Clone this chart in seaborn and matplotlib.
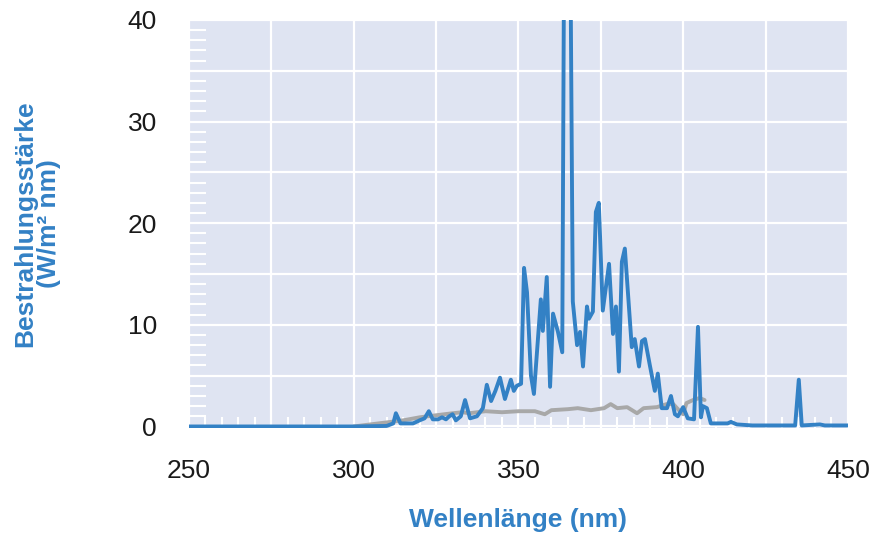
import numpy as np
import pandas as pd
import seaborn as sns
import matplotlib.pyplot as plt
from matplotlib.ticker import MultipleLocator

# blue spectrum (lamp), wavelength in nm / irradiance in W/(m^2 nm)
blue_nm = [250, 300, 310, 312, 312.8, 314.2, 318, 320, 321.5, 322.8, 324, 325.6,
           326.8, 328, 329, 330, 331, 332.5, 333.8, 335.3, 337.4, 339.2, 340.4,
           341.7, 343, 344.4, 345.9, 347.7, 348.6, 349.5, 350.8, 351.7, 352.6,
           353.8, 354.7, 356.8, 357.4, 358.6, 359.6, 360.5, 362, 363.3, 363.9,
           365.7, 366.5, 367.8, 368.7, 369.6, 370.8, 371.4, 372.6, 373.5, 374.4,
           375.6, 377.5, 378.7, 379.6, 380.5, 381.4, 382.3, 384.4, 385.3, 386.6,
           387.5, 388.4, 389.9, 391.4, 392.3, 393.5, 395.1, 396.3, 397.5, 398.4,
           400, 401.4, 403.3, 404.5, 405.4, 406, 407.2, 408.4, 410.2, 413.5,
           414.5, 416.3, 421, 434, 435.1, 436, 441.5, 443, 450]
blue_val = [0, 0, 0.05, 0.3, 1.3, 0.3, 0.3, 0.6, 0.8, 1.5, 0.7, 0.7,
            0.9, 0.7, 1.0, 1.2, 0.6, 1.0, 2.6, 0.8, 1.0, 1.8, 4.1,
            2.5, 3.5, 4.8, 2.7, 4.6, 3.5, 4.0, 4.2, 15.6, 13.2,
            5.0, 3.2, 12.5, 9.4, 14.7, 3.9, 11.1, 9.3, 7.3, 50,
            50, 12.3, 8.0, 9.3, 5.9, 11.8, 10.6, 11.3, 21.1, 22.0,
            11.4, 16.0, 9.1, 11.8, 5.4, 16.2, 17.5, 7.8, 8.6, 5.9,
            8.4, 8.6, 6.0, 3.5, 5.2, 1.8, 1.8, 3.0, 1.2, 1.0,
            1.9, 0.8, 0.7, 9.8, 0.9, 2.0, 1.8, 0.3, 0.3, 0.3,
            0.45, 0.2, 0.1, 0.1, 4.6, 0.1, 0.2, 0.1, 0.1]

# grey reference spectrum
grey_nm = [300, 305, 310, 315, 320, 325, 330, 333, 335, 340, 345, 350, 355,
           358, 360, 365, 368, 372, 376, 378, 380, 383, 386, 388, 392, 395,
           397, 399, 400, 401, 403, 405, 406.5]
grey_val = [0.0, 0.2, 0.4, 0.6, 0.9, 1.1, 1.3, 1.4, 1.3, 1.5, 1.4, 1.5, 1.5,
            1.2, 1.6, 1.7, 1.8, 1.6, 1.8, 2.2, 1.8, 1.9, 1.3, 1.8, 1.9, 2.2,
            2.2, 1.5, 1.2, 2.3, 2.6, 2.8, 2.6]

x_ticks = [250, 275, 300, 325, 350, 375, 400, 425, 450]
x_tick_labels = ["250", "", "300", "", "350", "", "400", "", "450"]
y_ticks = [0, 5, 10, 15, 20, 25, 30, 35, 40]
y_tick_labels = ["0", "", "10", "", "20", "", "30", "", "40"]

blue = "#3381c5"
grey = "#a8a8a8"
bg = "#dfe4f2"

sns.set_theme(style="darkgrid", rc={"axes.facecolor": bg, "grid.color": "white",
                                    "grid.linewidth": 1.6})
plt.rcParams['font.family'] = ['Liberation Sans', 'DejaVu Sans']

fig = plt.figure(figsize=(8.75, 5.37), dpi=100)
ax = fig.add_axes([0.216, 0.203, 0.753, 0.760])

grey_df = pd.DataFrame({"nm": grey_nm, "val": grey_val})
blue_df = pd.DataFrame({"nm": blue_nm, "val": blue_val})
sns.lineplot(data=grey_df, x="nm", y="val", color=grey, linewidth=2.8, ax=ax)
sns.lineplot(data=blue_df, x="nm", y="val", color=blue, linewidth=2.8, ax=ax)

ax.set_xlim(250, 450)
ax.set_ylim(-0.15, 40)
ax.set_xticks(x_ticks)
ax.set_xticklabels(x_tick_labels)
ax.set_yticks(y_ticks)
ax.set_yticklabels(y_tick_labels)
ax.xaxis.set_minor_locator(MultipleLocator(5))
ax.yaxis.set_minor_locator(MultipleLocator(1))
ax.tick_params(which="major", length=0, labelsize=19, colors="#1a1a1a")
ax.tick_params(axis="x", which="major", pad=22)
ax.tick_params(axis="y", which="major", pad=23)
ax.tick_params(axis="x", which="minor", direction="in", length=8, width=1.5,
               color="white", bottom=True)
ax.tick_params(axis="y", which="minor", direction="in", length=12, width=1.5,
               color="white", left=True)
for s in ax.spines.values():
    s.set_visible(False)

lab_font = ['Liberation Sans Narrow', 'Liberation Sans', 'DejaVu Sans']
ax.set_xlabel("Wellenlänge (nm)", color=blue, fontsize=19, fontweight="bold",
              family=lab_font, labelpad=18)
ax.set_ylabel("Bestrahlungsstärke\n(W/m² nm)", color=blue, fontsize=19,
              fontweight="bold", family=lab_font, labelpad=48, linespacing=1.0)

fig.savefig("out.png", dpi=100)
